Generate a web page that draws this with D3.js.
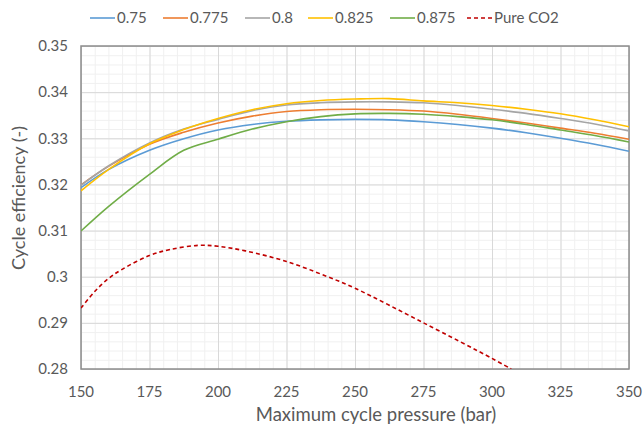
<html>
  <head>
    <script src="https://cdnjs.cloudflare.com/ajax/libs/d3/7.8.5/d3.min.js"></script>
  </head>
  <body style="margin:0;background:#fff;">
    <style>
      text {font-family: Lato, "Open Sans", sans-serif; fill:#595959;}
      .major line {stroke:#d9d9d9;}
      .minor line {stroke:#f0f0f0;}
      .grid path {display:none;}
    </style>
    <div id="chart"></div>
    <script>

// D A T A

      let pressure = [150, 160, 175, 187.5, 200, 212.5, 225, 237.5, 250, 262.5, 275, 287.5, 300, 312.5, 325, 337.5, 350]

      let eff075  = [0.3193, 0.3232, 0.3274, 0.3299, 0.3318, 0.3330, 0.3337, 0.3340, 0.3341, 0.3340, 0.3336, 0.3330, 0.3322, 0.3312, 0.3300, 0.3287, 0.3272]
      let eff0775 = [0.3199, 0.3239, 0.3287, 0.3313, 0.3333, 0.3348, 0.3358, 0.3362, 0.3363, 0.3362, 0.3359, 0.3352, 0.3343, 0.3333, 0.3322, 0.3311, 0.3298]
      let eff08   = [0.3198, 0.3240, 0.3290, 0.3320, 0.3341, 0.3360, 0.3372, 0.3377, 0.3379, 0.3379, 0.3377, 0.3371, 0.3363, 0.3354, 0.3343, 0.3331, 0.3316]
      let eff0825 = [0.3186, 0.3232, 0.3288, 0.3319, 0.3343, 0.3362, 0.3375, 0.3382, 0.3385, 0.3386, 0.3381, 0.3377, 0.3371, 0.3363, 0.3353, 0.3340, 0.3325]
      let eff0875 = [0.3099, 0.3152, 0.3222, 0.3274, 0.3298, 0.3320, 0.3336, 0.3347, 0.3353, 0.3354, 0.3352, 0.3347, 0.3340, 0.3330, 0.3318, 0.3306, 0.3292]

      let pureP   = [150, 155, 160, 165, 175, 182.5, 193, 200, 210, 225, 240, 250, 275, 300, 307]
      let pureEff = [0.2932, 0.2968, 0.2996, 0.3016, 0.3046, 0.3059, 0.3068, 0.3066, 0.3056, 0.3033, 0.3000, 0.2975, 0.2900, 0.2823, 0.2800]

      let xTicks = [150, 175, 200, 225, 250, 275, 300, 325, 350]
      let yTicks = [0.28, 0.29, 0.30, 0.31, 0.32, 0.33, 0.34, 0.35]

      let series = [
        {name:'0.75',     xs:pressure, ys:eff075,  color:'#5b9bd5'},
        {name:'0.775',    xs:pressure, ys:eff0775, color:'#ed7d31'},
        {name:'0.8',      xs:pressure, ys:eff08,   color:'#a5a5a5'},
        {name:'0.825',    xs:pressure, ys:eff0825, color:'#ffc000'},
        {name:'0.875',    xs:pressure, ys:eff0875, color:'#70ad47'},
        {name:'Pure CO2', xs:pureP,    ys:pureEff, color:'#c00000', dash:'4,3'}
      ]


// S C A L E S

      let W = 643, H = 426
      let margin = {top:46, right:14, bottom:57, left:81}
      let width = W - margin.left - margin.right
      let height = H - margin.top - margin.bottom

      let svg = d3.select('#chart').append('svg')
        .attr('width', W)
        .attr('height', H)

      let g = svg.append('g')
        .attr('transform', `translate(${margin.left},${margin.top})`)

      let x = d3.scaleLinear().domain([150, 350]).range([0, width])
      let y = d3.scaleLinear().domain([0.28, 0.35]).range([height, 0])


// G R I D

      g.append('g').attr('class', 'grid minor')
        .call(d3.axisBottom(x).tickValues(d3.range(150, 351, 5)).tickSize(height).tickFormat(''))
      g.append('g').attr('class', 'grid minor')
        .call(d3.axisLeft(y).tickValues(d3.range(0.28, 0.3501, 0.002)).tickSize(-width).tickFormat(''))
      g.append('g').attr('class', 'grid major')
        .call(d3.axisBottom(x).tickValues(xTicks).tickSize(height).tickFormat(''))
      g.append('g').attr('class', 'grid major')
        .call(d3.axisLeft(y).tickValues(yTicks).tickSize(-width).tickFormat(''))

      g.append('rect')
        .attr('width', width)
        .attr('height', height)
        .attr('fill', 'none')
        .attr('stroke', '#8c8c8c')
        .attr('stroke-width', 1.5)


// A X I S   L A B E L S

      g.selectAll('.xlab').data(xTicks).enter()
        .append('text')
          .attr('x', d => x(d))
          .attr('y', height + 28)
          .attr('text-anchor', 'middle')
          .style('font-size', '15px')
          .text(d => d)

      g.selectAll('.ylab').data(yTicks).enter()
        .append('text')
          .attr('x', -13)
          .attr('y', d => y(d))
          .attr('dy', '0.35em')
          .attr('text-anchor', 'end')
          .style('font-size', '15px')
          .text(d => d3.format('')(+d.toFixed(2)))

      svg.append('text')
        .attr('x', 376)
        .attr('y', 421)
        .attr('text-anchor', 'middle')
        .style('font-size', '18.5px')
        .text('Maximum cycle pressure (bar)')

      svg.append('text')
        .attr('transform', 'translate(25,198) rotate(-90)')
        .attr('text-anchor', 'middle')
        .style('font-size', '18px')
        .text('Cycle efficiency (-)')


// L I N E S

      let clip = svg.append('clipPath').attr('id', 'plot')
        .append('rect').attr('width', width).attr('height', height)

      let line = d3.line()
        .x(d => x(d[0]))
        .y(d => y(d[1]))
        .curve(d3.curveCatmullRom.alpha(0.5))

      g.append('g').attr('clip-path', 'url(#plot)')
        .selectAll('path').data(series).enter()
          .append('path')
            .attr('d', s => line(s.xs.map((p, i) => [p, s.ys[i]])))
            .attr('fill', 'none')
            .attr('stroke', s => s.color)
            .attr('stroke-width', 1.6)
            .attr('stroke-dasharray', s => s.dash || null)


// L E G E N D

      let legendX = [90, 163, 245, 308, 390, 467]
      let legend = svg.append('g')
        .selectAll('g').data(series).enter()
          .append('g')
            .attr('transform', (s, i) => `translate(${legendX[i]},18)`)

      legend.append('line')
        .attr('x1', 0).attr('x2', 25)
        .attr('stroke', s => s.color)
        .attr('stroke-width', 1.6)
        .attr('stroke-dasharray', s => s.dash || null)

      legend.append('text')
        .attr('x', 27)
        .attr('dy', '0.35em')
        .style('font-size', '15px')
        .text(s => s.name)

    </script>
  </body>
</html>
